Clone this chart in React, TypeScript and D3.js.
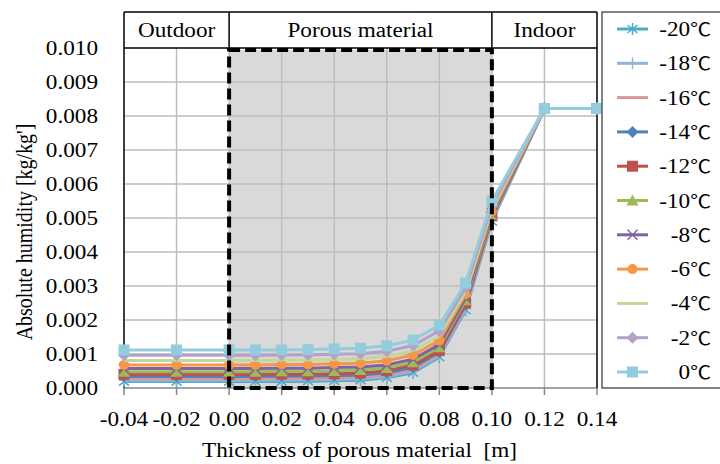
import React from 'react';
import * as d3 from 'd3';

// thickness positions [m]
const thickness = [-0.04, -0.02, 0.0, 0.01, 0.02, 0.03, 0.04, 0.05, 0.06, 0.07, 0.08, 0.09, 0.1, 0.12, 0.14];

const seriesTemps = ['-20', '-18', '-16', '-14', '-12', '-10', '-8', '-6', '-4', '-2', '0'];
const seriesColors = ['#4BACC6', '#95B3D7', '#D99694', '#4F81BD', '#C0504D', '#9BBB59', '#8064A2', '#F79646', '#C3D69B', '#B3A2C7', '#93CDDD'];
const seriesMarkers = ['star', 'plus', 'none', 'diamond', 'square', 'triangle', 'x', 'circle', 'none', 'diamond', 'square'];

// absolute humidity [kg/kg']
const hM20 = [0.00019, 0.00019, 0.00019, 0.00019, 0.00019, 0.0002, 0.00021, 0.00023, 0.0003, 0.00045, 0.00091, 0.00229, 0.0049, 0.00822, 0.00822];
const hM18 = [0.00023, 0.00023, 0.00023, 0.00023, 0.00024, 0.00024, 0.00025, 0.00027, 0.00034, 0.0005, 0.00095, 0.00234, 0.00494, 0.00822, 0.00822];
const hM16 = [0.00028, 0.00028, 0.00028, 0.00028, 0.00029, 0.00029, 0.0003, 0.00032, 0.00039, 0.00055, 0.00099, 0.00238, 0.00498, 0.00822, 0.00822];
const hM14 = [0.00034, 0.00034, 0.00034, 0.00034, 0.00035, 0.00035, 0.00036, 0.00038, 0.00045, 0.00061, 0.00105, 0.00244, 0.00502, 0.00822, 0.00822];
const hM12 = [0.0004, 0.0004, 0.0004, 0.0004, 0.00041, 0.00041, 0.00042, 0.00044, 0.00051, 0.00068, 0.00111, 0.0025, 0.00506, 0.00822, 0.00822];
const hM10 = [0.00048, 0.00048, 0.00048, 0.00048, 0.00049, 0.00049, 0.0005, 0.00053, 0.00059, 0.00076, 0.0012, 0.00258, 0.0051, 0.00822, 0.00822];
const hM8 = [0.00057, 0.00057, 0.00057, 0.00057, 0.00058, 0.00058, 0.0006, 0.00062, 0.00068, 0.00085, 0.00128, 0.00265, 0.00514, 0.00822, 0.00822];
const hM6 = [0.00068, 0.00068, 0.00068, 0.00068, 0.00069, 0.00069, 0.00071, 0.00073, 0.0008, 0.00097, 0.0014, 0.00276, 0.00519, 0.00822, 0.00822];
const hM4 = [0.00081, 0.00081, 0.00081, 0.00081, 0.00082, 0.00082, 0.00084, 0.00087, 0.00093, 0.0011, 0.00153, 0.00283, 0.00526, 0.00822, 0.00822];
const hM2 = [0.00096, 0.00096, 0.00096, 0.00096, 0.00097, 0.00097, 0.00099, 0.00101, 0.00108, 0.00125, 0.00168, 0.00295, 0.00536, 0.00822, 0.00822];
const h0 = [0.00112, 0.00112, 0.00112, 0.00112, 0.00112, 0.00113, 0.00115, 0.00117, 0.00124, 0.00141, 0.00185, 0.00309, 0.0055, 0.00822, 0.00822];
const seriesValues = [hM20, hM18, hM16, hM14, hM12, hM10, hM8, hM6, hM4, hM2, h0];

const xTicks = [-0.04, -0.02, 0.0, 0.02, 0.04, 0.06, 0.08, 0.1, 0.12, 0.14];
const yTicks = [0, 0.001, 0.002, 0.003, 0.004, 0.005, 0.006, 0.007, 0.008, 0.009, 0.01];
const zones = [
  { label: 'Outdoor', from: -0.04, to: 0.0 },
  { label: 'Porous material', from: 0.0, to: 0.1 },
  { label: 'Indoor', from: 0.1, to: 0.14 },
];
const materialBox = { from: 0.0, to: 0.1, top: 0.00994 };

const W = 720;
const H = 464;
const plot = { left: 124, right: 597, top: 12, bottom: 388 };
const font = '"Liberation Serif", "Times New Roman", serif';
const cjkFont = '"Noto Sans CJK JP", "Noto Sans CJK SC", sans-serif';
const SX = 1.16; // text in the original is a bit wider than tall

const Marker = ({ type, cx, cy, color }: { type: string; cx: number; cy: number; color: string }) => {
  const s = 5;
  switch (type) {
    case 'square':
      return <rect x={cx - s - 0.5} y={cy - s - 0.5} width={2 * s + 1} height={2 * s + 1} fill={color} />;
    case 'diamond':
      return <path d={`M${cx},${cy - 6}L${cx + 6},${cy}L${cx},${cy + 6}L${cx - 6},${cy}Z`} fill={color} />;
    case 'triangle':
      return <path d={`M${cx},${cy - 6}L${cx + 6},${cy + 5}L${cx - 6},${cy + 5}Z`} fill={color} />;
    case 'circle':
      return <circle cx={cx} cy={cy} r={5} fill={color} />;
    case 'x':
      return (
        <path d={`M${cx - 5},${cy - 5}L${cx + 5},${cy + 5}M${cx - 5},${cy + 5}L${cx + 5},${cy - 5}`} stroke={color} strokeWidth={1.5} />
      );
    case 'plus':
      return <path d={`M${cx - 5},${cy}L${cx + 5},${cy}M${cx},${cy - 6}L${cx},${cy + 6}`} stroke={color} strokeWidth={1.5} />;
    case 'star':
      return (
        <path
          d={`M${cx},${cy - 6}L${cx},${cy + 6}M${cx - 5},${cy - 4}L${cx + 5},${cy + 4}M${cx - 5},${cy + 4}L${cx + 5},${cy - 4}`}
          stroke={color}
          strokeWidth={1.5}
        />
      );
    default:
      return null;
  }
};

const SText = ({ x, y, anchor, children }: { x: number; y: number; anchor: string; children: React.ReactNode }) => (
  <text
    transform={`translate(${x},${y}) scale(${SX},1)`}
    textAnchor={anchor}
    fontFamily={font}
    fontSize={20}
    fill="#000"
    style={{ whiteSpace: 'pre' }}
  >
    {children}
  </text>
);

export default function App() {
  const x = d3.scaleLinear().domain([-0.04, 0.14]).range([plot.left, plot.right]);
  const y = d3.scaleLinear().domain([0, 0.01]).range([plot.bottom, 48]);
  const line = d3
    .line<number>()
    .x((_, i) => x(thickness[i]))
    .y((d) => y(d));

  const headerBottom = y(0.01);

  return (
    <div style={{ position: 'absolute', left: 0, top: 0 }}>
      <svg width={W} height={H} style={{ display: 'block', background: '#fff' }}>
        {/* porous material shading */}
        <rect
          x={x(materialBox.from)}
          y={y(materialBox.top)}
          width={x(materialBox.to) - x(materialBox.from)}
          height={plot.bottom - y(materialBox.top)}
          fill="#D9D9D9"
        />

        {/* gridlines */}
        {yTicks.slice(1, -1).map((t) => (
          <line key={'gy' + t} x1={plot.left} x2={plot.right} y1={y(t)} y2={y(t)} stroke="#BDBDBD" strokeWidth={1.5} />
        ))}
        {xTicks.slice(1, -1).map((t) => (
          <line key={'gx' + t} x1={x(t)} x2={x(t)} y1={headerBottom} y2={plot.bottom} stroke="#BDBDBD" strokeWidth={1.5} />
        ))}

        {/* bottom axis */}
        <line x1={plot.left} x2={plot.right} y1={plot.bottom} y2={plot.bottom} stroke="#868686" strokeWidth={1.5} />
        {xTicks.map((t) => (
          <line key={'tx' + t} x1={x(t)} x2={x(t)} y1={plot.bottom} y2={plot.bottom + 7} stroke="#868686" strokeWidth={1.5} />
        ))}

        {/* frame + header row */}
        <line x1={plot.left} x2={plot.left} y1={plot.top} y2={plot.bottom} stroke="#000" strokeWidth={1.5} />
        <line x1={plot.right} x2={plot.right} y1={plot.top} y2={plot.bottom} stroke="#000" strokeWidth={1.5} />
        <line x1={plot.left} x2={plot.right} y1={plot.top} y2={plot.top} stroke="#000" strokeWidth={1.5} />
        <line x1={plot.left} x2={plot.right} y1={headerBottom} y2={headerBottom} stroke="#000" strokeWidth={1.5} />
        {zones.slice(1).map((z) => (
          <line key={'zd' + z.label} x1={x(z.from)} x2={x(z.from)} y1={plot.top} y2={headerBottom} stroke="#000" strokeWidth={1.5} />
        ))}
        {zones.map((z) => (
          <SText key={z.label} x={(x(z.from) + x(z.to)) / 2} y={37} anchor="middle">
            {z.label}
          </SText>
        ))}

        {/* series */}
        {seriesValues.map((vals, si) => (
          <g key={seriesTemps[si]}>
            <path d={line(vals) || ''} fill="none" stroke={seriesColors[si]} strokeWidth={3} strokeLinejoin="round" />
            {vals.map((v, i) => (
              <Marker key={i} type={seriesMarkers[si]} cx={x(thickness[i])} cy={y(v)} color={seriesColors[si]} />
            ))}
          </g>
        ))}

        {/* dashed material boundary */}
        <rect
          x={x(materialBox.from)}
          y={y(materialBox.top)}
          width={x(materialBox.to) - x(materialBox.from)}
          height={plot.bottom - y(materialBox.top)}
          fill="none"
          stroke="#000"
          strokeWidth={4}
          strokeDasharray="11 5"
        />

        {/* tick labels */}
        {yTicks.map((t) => (
          <SText key={'ly' + t} x={98} y={y(t) + 7} anchor="end">
            {d3.format('.3f')(t)}
          </SText>
        ))}
        {xTicks.map((t) => (
          <SText key={'lx' + t} x={x(t)} y={426} anchor="middle">
            {d3.format('.2f')(t).replace('−', '-')}
          </SText>
        ))}

        {/* axis titles */}
        <SText x={(plot.left + plot.right) / 2 - 1} y={457} anchor="middle">
          {'Thickness of porous material  [m]'}
        </SText>
        <text
          transform={`translate(32,${(plot.top + plot.bottom) / 2 + 32}) rotate(-90) scale(1,${SX})`}
          textAnchor="middle"
          fontFamily={font}
          fontSize={20}
        >
          {"Absolute humidity [kg/kg']"}
        </text>

        {/* legend */}
        <rect x={602} y={12} width={130} height={376} fill="#fff" stroke="#595959" strokeWidth={1.5} />
        {seriesTemps.map((t, i) => {
          const ly = 29 + i * 34.3;
          return (
            <g key={'lg' + t}>
              <line x1={617} x2={648} y1={ly} y2={ly} stroke={seriesColors[i]} strokeWidth={3} />
              <Marker type={seriesMarkers[i]} cx={632.5} cy={ly} color={seriesColors[i]} />
              <text transform={`translate(711,${ly + 7}) scale(${SX},1)`} textAnchor="end" fontSize={20} fill="#000">
                <tspan fontFamily={font}>{t}</tspan>
                <tspan fontFamily={cjkFont} fontSize={18}>
                  ℃
                </tspan>
              </text>
            </g>
          );
        })}
      </svg>
    </div>
  );
}
